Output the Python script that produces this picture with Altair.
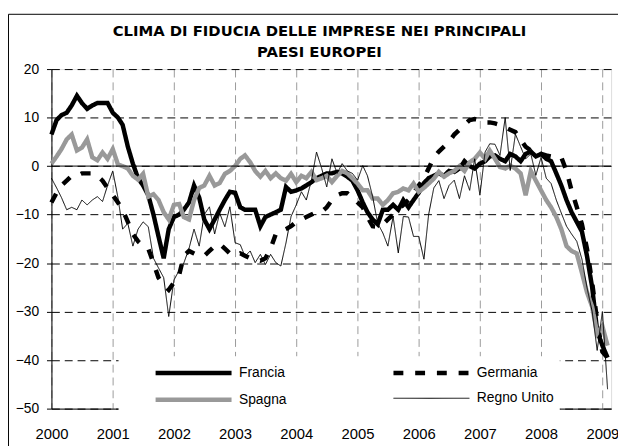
import altair as alt
import pandas as pd

paesi = ["Francia", "Germania", "Spagna", "Regno Unito"]
colori = ["#000000", "#000000", "#999999", "#000000"]
spessori = [4.5, 4.5, 4.5, 1]
tratti = [[1, 0], [10, 12], [1, 0], [1, 0]]

anni = [str(a) for a in range(2000, 2010)]

francia = [
    6.5, 9.5, 10.5, 11, 12.5, 14.5, 13, 11.8, 12.5, 13,
    13, 13, 11, 10, 8.5, 4, 0.5, -2.5, -4, -6,
    -10, -14.5, -19, -13, -10.5, -10, -9, -7.5, -4, -6.5,
    -11, -13, -11, -9, -7, -5.3, -5.5, -8.5, -9, -9,
    -9, -12.4, -10.5, -10, -9.5, -9, -4.3, -5.3, -5, -4.6,
    -4, -3.3, -2.5, -2, -1.5, -1.5, -1.2, -1.5, -2.2, -3,
    -5, -7.5, -9.5, -11, -12, -9, -9, -8, -9, -7,
    -8.5, -7, -5.5, -3.5, -2.5, -2, -1.5, -2, -1, -1.2,
    -0.5, 1, 0, -0.5, 0.5, 1, 2, 2.2, 1.5, 1,
    2.5, 2, 1, 2.5, 3, 2, 2.5, 1.5, 1, -1.5,
    -4, -7, -9.5, -11.5, -13.5, -18.5, -25, -34, -37, -39.5,
]
germania = [
    -7.5, -5.5, -4, -3, -2, -2, -1.5, -1.5, -1.5, -2,
    -3, -4.5, -6, -7.5, -9, -11.5, -14, -15.5, -16.5, -17,
    -20, -23, -24.5, -25.5, -24, -22.5, -18.5, -17.5, -18, -18.5,
    -18.5, -17.5, -16.5, -16, -17, -18, -18.5, -18, -18.5, -19,
    -19.2, -19.5, -19, -17, -14, -13.5, -13, -12.4, -11.5, -11,
    -10.5, -10, -9.5, -9.4, -8.5, -7, -6, -5.6, -5.6, -6.5,
    -7.5, -8.5, -10.5, -12.4, -12.5, -12, -11, -10, -9, -8,
    -7, -5.5, -4, -2.5, -0.5, 1.8, 3, 4, 5, 6.5,
    7.5, 8.5, 9.5, 9.7, 9.5, 9, 9, 8.8, 8.5, 8,
    7.5, 7, 5.5, 4, 3.2, 3, 2.5, 2.2, 2, 2,
    1.8, -1, -5, -8.4, -12, -17, -24, -32, -38.3, -39.5,
]
spagna = [
    0.5, 2, 3.5, 5.5, 6.5, 3.2, 3.8, 5.5, 1.8, 1.2,
    2.8, 1.5, 3.5, 0.3, 0, -0.5, -2, -2.8, -1.6, -6.3,
    -5.8, -7, -9.5, -11, -8, -7.8, -10.5, -11, -7, -4.5,
    -4, -2, -4, -3.5, -1.6, -1, 0, 1.5, 2.2, 0.8,
    -1, -2.2, -1, -2.5, -1.5, -2.5, -3, -1.6, -3.3, -2,
    -2.5, -1.2, -2.9, -2.5, -2, -3.3, -2, -1, -1.5, -2.5,
    -3.6, -5, -5, -6.7, -6.7, -8, -7, -5.6, -5.3, -4.6,
    -5, -3.6, -5.3, -4.5, -3.6, -2.6, -1.2, -2.2, -1.5, -1,
    0, -1, 0.8, 1.5, 2.8, 1.5, 3.2, 1.5, -0.2, -0.5,
    0.1, -0.5, -1.5, -6, -1, -3, -5, -7, -8.5, -10.5,
    -13, -16.5, -17.5, -18, -22, -26, -29, -34.5, -33, -37,
]
regno_unito = [
    -2.5, -4.5, -6.5, -9, -8.5, -9, -7, -8, -7, -6.3,
    -7.3, -4, -1, -6.5, -13, -11.8, -16.5, -13, -11.5, -12.5,
    -19, -21, -23, -31, -23.5, -21.5, -20, -17, -13, -16.5,
    -10, -8.4, -14, -9.7, -12.5, -8.4, -15.8, -16.2, -18.6, -17.5,
    -19.9, -18.2, -20.3, -18.2, -19.9, -20.6, -15.8, -10.4, -8, -5.3,
    -7, -2.9, 2.9, -0.5, -4.3, 1.5, -1.5, 0.5, -1, -1.5,
    -2.9, 0.1, -2, -6.3, -11.8, -13.8, -16.5, -10.4, -17.9, -10.4,
    -10.5, -14.5, -14.5, -19.2, -10, -4.5, -3, -6.7, -4, -2.9,
    -6.7, -2, -5, 1.5, -6, 2.9, 4.6, 4.5, 2.2, 10,
    -0.9, 6.6, 4, 1.5, 2.5, -1.9, 1.8, -2.5, -3.6, -7,
    -9.7, -12.4, -14, -15.5, -19.2, -25, -30, -38, -30, -46,
]

mesi = pd.date_range("2000-01-01", periods=len(francia), freq="MS").strftime("%Y-%m-%d")
serie = {"Francia": francia, "Germania": germania, "Spagna": spagna, "Regno Unito": regno_unito}
df = pd.concat(
    [pd.DataFrame({"data": mesi, "valore": v, "Paese": k}) for k, v in serie.items()],
    ignore_index=True,
)

FONT = "Liberation Sans"

legenda = alt.Legend(
    orient="none", legendX=68, legendY=291, columns=2, direction="horizontal", title=None,
    symbolType="M-4,0H4", symbolSize=370, symbolOffset=59,
    labelFont=FONT, labelFontSize=14, labelColor="black", labelOffset=34,
    columnPadding=75, rowPadding=6, padding=5,
    fillColor="white", strokeColor="white",
)

x_enc = alt.X(
    "data:T",
    scale=alt.Scale(domain=[alt.DateTime(year=2000, month=1, date=1),
                            alt.DateTime(year=2009, month=2, date=22)]),
    axis=alt.Axis(
        values=[alt.DateTime(year=int(a), month=1, date=1) for a in anni],
        format="%Y", title=None, labelFont=FONT, labelFontSize=15, labelColor="black",
        labelPadding=18, ticks=False, tickSize=0, labelFlush=False, labelOverlap=False,
        domainColor="black", gridColor="#9a9a9a", gridDash=[8, 5], gridWidth=1,
    ),
)
y_enc = alt.Y(
    "valore:Q",
    scale=alt.Scale(domain=[-50, 20], nice=False, zero=False),
    axis=alt.Axis(
        values=list(range(-50, 21, 10)), title=None, labelFont=FONT, labelFontSize=14,
        labelColor="black", labelPadding=8, tickSize=5, tickColor="black",
        domainColor="black", gridColor="black", gridDash=[8, 5], gridWidth=1,
    ),
)

cornice = alt.Chart(pd.DataFrame({"k": [0]})).mark_rect(
    fillOpacity=0, stroke="black", strokeWidth=1
).encode(x=alt.value(-43.5), x2=alt.value(700), y=alt.value(-55.5), y2=alt.value(500))

zero = alt.Chart(pd.DataFrame({"v": [0]})).mark_rule(color="black", strokeWidth=1).encode(
    y=alt.Y("v:Q", scale=alt.Scale(domain=[-50, 20], nice=False, zero=False))
)

strati = []
for i, p in enumerate(paesi):
    strati.append(
        alt.Chart(df).transform_filter(alt.datum.Paese == p).mark_line(strokeJoin="miter", strokeCap="butt").encode(
            x=x_enc,
            y=y_enc,
            color=alt.Color("Paese:N", scale=alt.Scale(domain=paesi, range=colori), legend=legenda),
            strokeDash=alt.StrokeDash("Paese:N", scale=alt.Scale(domain=paesi, range=tratti), legend=legenda),
            strokeWidth=alt.StrokeWidth("Paese:N", scale=alt.Scale(type="ordinal", domain=paesi, range=spessori), legend=legenda),
        )
    )

chart = alt.layer(cornice, *strati, zero).properties(
    width=567, height=344,
    autosize=alt.AutoSizeParams(type="none"),
    padding={"left": 44, "top": 59, "right": 7, "bottom": 35},
    title=alt.Title(
        ["CLIMA DI FIDUCIA DELLE IMPRESE NEI PRINCIPALI", "PAESI EUROPEI"],
        font="DejaVu Sans", fontSize=15, fontWeight="bold", color="black",
        anchor="middle", frame="group", dx=-12, offset=-47, lineHeight=22,
    ),
).configure_view(stroke="black", strokeWidth=1).configure(background="white")

chart.save("out.html", embed_options={"renderer": "svg", "actions": False})
